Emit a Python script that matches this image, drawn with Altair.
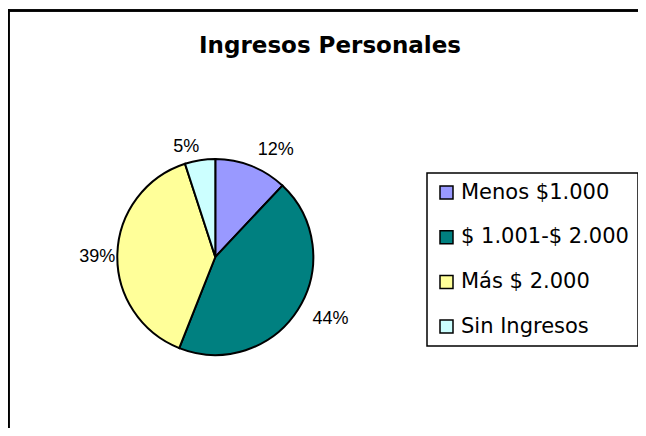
import altair as alt
import pandas as pd

categorias = ["Menos $1.000", "$ 1.001-$ 2.000", "Más $ 2.000", "Sin Ingresos"]
porcentajes = [12, 44, 39, 5]
etiquetas = ["12%", "44%", "39%", "5%"]
colores = ["#9999FF", "#008080", "#FFFF99", "#CCFFFF"]

df = pd.DataFrame({
    "categoria": categorias,
    "valor": porcentajes,
    "etiqueta": etiquetas,
    "orden": list(range(len(categorias))),
})

CX, CY = 203.3, 199

base = alt.Chart(df).transform_window(
    acum="sum(valor)", sort=[alt.SortField("orden")]
).transform_joinaggregate(
    total="sum(valor)"
).transform_calculate(
    mitad="(datum.acum - datum.valor / 2) / datum.total"
).encode(
    theta=alt.Theta("valor:Q", stack=True),
    order=alt.Order("orden:Q"),
    x=alt.value(CX),
    y=alt.value(CY),
)

pie = base.mark_arc(outerRadius=98, stroke="black", strokeWidth=2).encode(
    color=alt.Color(
        "categoria:N",
        sort=categorias,
        scale=alt.Scale(domain=categorias, range=colores),
        legend=alt.Legend(
            title=None,
            orient="none",
            legendX=415,
            legendY=115,
            symbolType="square",
            symbolSize=169,
            symbolStrokeColor="black",
            symbolStrokeWidth=1.5,
            symbolOpacity=1,
            labelFont="DejaVu Sans",
            labelFontSize=21,
            labelColor="black",
            labelLimit=400,
            labelOffset=4,
            padding=9,
            rowPadding=22.7,
            strokeColor="black",
            fillColor="white",
        ),
    )
)


def etiquetas_capa(cond, radio, alinear, linea_base, dy=0):
    return base.mark_text(
        radius=radio, align=alinear, baseline=linea_base, dy=dy,
        font="Liberation Sans", fontSize=18, color="black"
    ).encode(
        text="etiqueta:N",
        opacity=alt.condition(cond, alt.value(1), alt.value(0)),
    )


lab_der = etiquetas_capa("datum.mitad < 0.5", 115, "left", "middle")
lab_izq = etiquetas_capa("datum.mitad >= 0.5 && datum.mitad < 0.875", 100, "right", "middle", dy=3)
lab_sup = etiquetas_capa("datum.mitad >= 0.875", 102, "right", "bottom")

borde_sup = alt.Chart(df).mark_rule(color="black", strokeWidth=2).encode(
    x=alt.value(-4), x2=alt.value(650), y=alt.value(-47.5)
)
borde_izq = alt.Chart(df).mark_rule(color="black", strokeWidth=2).encode(
    x=alt.value(-3.5), y=alt.value(-48.5), y2=alt.value(400)
)

chart = alt.layer(borde_sup, borde_izq, pie, lab_der, lab_izq, lab_sup).properties(
    width=626,
    height=370,
    padding={"left": 4, "top": 50, "right": 0, "bottom": 0},
    autosize=alt.AutoSizeParams(type="none"),
    background="white",
    title=alt.TitleParams(
        "Ingresos Personales",
        font="DejaVu Sans",
        fontSize=23,
        fontWeight="bold",
        color="black",
        anchor="middle",
        frame="group",
        baseline="alphabetic",
        offset=2,
        dx=5,
        dy=69,
    ),
).configure_view(stroke=None).configure_legend(strokeWidth=1.5)

chart.save("out.html", embed_options={"renderer": "svg", "actions": False})
